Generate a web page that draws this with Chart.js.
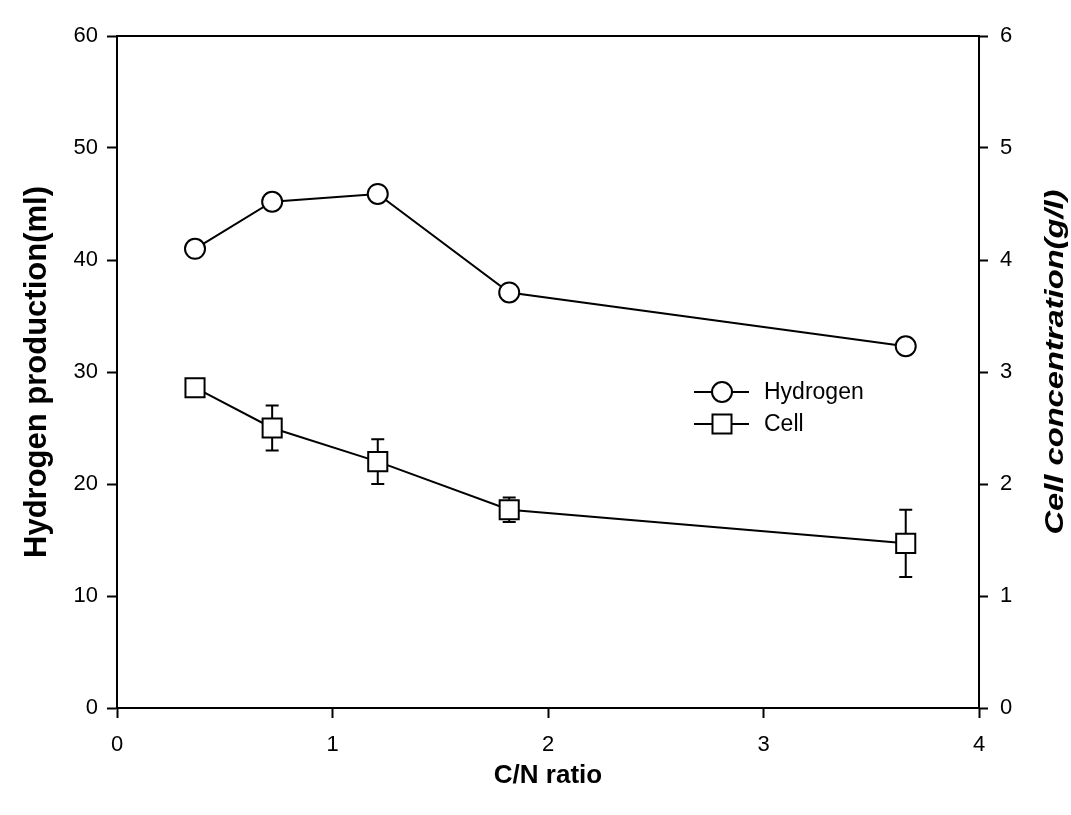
<!DOCTYPE html>
<html><head><meta charset="utf-8">
<script src="https://cdn.jsdelivr.net/npm/chart.js@4.4.1/dist/chart.umd.min.js"></script>
<style>html,body{margin:0;padding:0;background:#fff;}#wrap{width:1071px;height:815px;}</style>
</head><body><div id="wrap"><canvas id="c" width="1071" height="815"></canvas></div>
<script>
const cnRatio = [0.362, 0.72, 1.21, 1.82, 3.66];
const hydrogen = [41.0, 45.2, 45.9, 37.1, 32.3];
const cell = [2.86, 2.50, 2.20, 1.77, 1.47];
const cellErr = [0, 0.2, 0.2, 0.11, 0.3];
const xTicks = [0, 1, 2, 3, 4];
const seriesNames = ['Hydrogen', 'Cell'];
const xTitle = 'C/N ratio';
const yTitle = 'Hydrogen production(ml)';
const y2Title = 'Cell concentration(g/l)';

const FONT = "'Liberation Sans', Arial, sans-serif";

function drawText(ctx, text, x, y, font, rot, targetLen) {
  ctx.save();
  ctx.translate(x, y);
  ctx.rotate(rot);
  ctx.font = font;
  ctx.textAlign = 'center'; ctx.textBaseline = 'middle';
  if (targetLen) { const w = ctx.measureText(text).width; ctx.scale(targetLen / w, 1); }
  ctx.fillText(text, 0, 0);
  ctx.restore();
}

const extras = {
  id: 'extras',
  afterDatasetsDraw(chart) {
    const ctx = chart.ctx, ca = chart.chartArea;
    const xs = chart.scales.x, y2 = chart.scales.y2;
    ctx.save();
    ctx.strokeStyle = '#000'; ctx.fillStyle = '#000'; ctx.lineWidth = 2;
    // top frame line
    ctx.beginPath(); ctx.moveTo(ca.left - 1, ca.top); ctx.lineTo(ca.right + 1, ca.top); ctx.stroke();
    // error bars for cell
    cnRatio.forEach((x, i) => {
      const e = cellErr[i]; if (!e) return;
      const px = xs.getPixelForValue(x);
      const yTop = y2.getPixelForValue(cell[i] + e), yBot = y2.getPixelForValue(cell[i] - e);
      const yc = y2.getPixelForValue(cell[i]);
      ctx.beginPath();
      if (yTop < yc - 10) { ctx.moveTo(px, yTop); ctx.lineTo(px, yc - 10); }
      if (yBot > yc + 10) { ctx.moveTo(px, yc + 10); ctx.lineTo(px, yBot); }
      ctx.moveTo(px - 6.5, yTop); ctx.lineTo(px + 6.5, yTop);
      ctx.moveTo(px - 6.5, yBot); ctx.lineTo(px + 6.5, yBot);
      ctx.stroke();
    });
    // legend
    const lx0 = 694, lx1 = 749, mx = 722;
    [[392, 'circle'], [424, 'rect']].forEach(([ly, shape], k) => {
      ctx.lineWidth = 2;
      ctx.beginPath(); ctx.moveTo(lx0, ly); ctx.lineTo(lx1, ly); ctx.stroke();
      ctx.fillStyle = '#fff';
      ctx.beginPath();
      if (shape === 'circle') ctx.arc(mx, ly, 10, 0, Math.PI * 2);
      else ctx.rect(mx - 9.5, ly - 9.5, 19, 19);
      ctx.fill(); ctx.stroke();
      ctx.fillStyle = '#000';
      ctx.font = '23px ' + FONT; ctx.textBaseline = 'middle'; ctx.textAlign = 'left';
      ctx.fillText(seriesNames[k], 764, ly + 1);
    });
    // titles
    drawText(ctx, yTitle, 37, (ca.top + ca.bottom) / 2, 'bold 31px ' + FONT, -Math.PI / 2);
    drawText(ctx, y2Title, 1056, 362, 'italic bold 26px ' + FONT, -Math.PI / 2, 345);
    drawText(ctx, xTitle, (ca.left + ca.right) / 2, 776, 'bold 26px ' + FONT, 0);
    ctx.restore();
  }
};

new Chart(document.getElementById('c'), {
  type: 'scatter',
  data: {
    datasets: [
      {
        label: seriesNames[0], yAxisID: 'y',
        data: cnRatio.map((x, i) => ({x, y: hydrogen[i]})),
        showLine: true, borderColor: '#000', borderWidth: 2,
        pointStyle: 'circle', pointRadius: 10, pointBorderWidth: 2,
        pointBackgroundColor: '#fff', pointBorderColor: '#000'
      },
      {
        label: seriesNames[1], yAxisID: 'y2',
        data: cnRatio.map((x, i) => ({x, y: cell[i]})),
        showLine: true, borderColor: '#000', borderWidth: 2,
        pointStyle: 'rect', pointRadius: 13.5, pointBorderWidth: 2,
        pointBackgroundColor: '#fff', pointBorderColor: '#000'
      }
    ]
  },
  options: {
    responsive: false, animation: false, devicePixelRatio: 1,
    layout: { padding: { top: 36, left: 0, right: 0, bottom: 0 } },
    plugins: { legend: { display: false }, tooltip: { enabled: false } },
    scales: {
      x: {
        type: 'linear', min: 0, max: 4,
        afterBuildTicks: s => { s.ticks = xTicks.map(v => ({value: v})); },
        afterFit: s => { s.height = 107; },
        grid: { drawOnChartArea: false, drawTicks: true, tickLength: 10, tickWidth: 2, tickColor: '#000' },
        border: { display: true, color: '#000', width: 2 },
        ticks: { color: '#000', font: { family: FONT, size: 22 }, padding: 14 }
      },
      y: {
        type: 'linear', position: 'left', min: 0, max: 60,
        ticks: { stepSize: 10, color: '#000', font: { family: FONT, size: 22 }, padding: 9 },
        afterFit: s => { s.width = 117; },
        grid: { drawOnChartArea: false, drawTicks: true, tickLength: 10, tickWidth: 2, tickColor: '#000' },
        border: { display: true, color: '#000', width: 2 }
      },
      y2: {
        type: 'linear', position: 'right', min: 0, max: 6,
        ticks: { stepSize: 1, color: '#000', font: { family: FONT, size: 22 }, padding: 12 },
        afterFit: s => { s.width = 92; },
        grid: { drawOnChartArea: false, drawTicks: true, tickLength: 9, tickWidth: 2, tickColor: '#000' },
        border: { display: true, color: '#000', width: 2 }
      }
    }
  },
  plugins: [extras]
});
</script></body></html>
